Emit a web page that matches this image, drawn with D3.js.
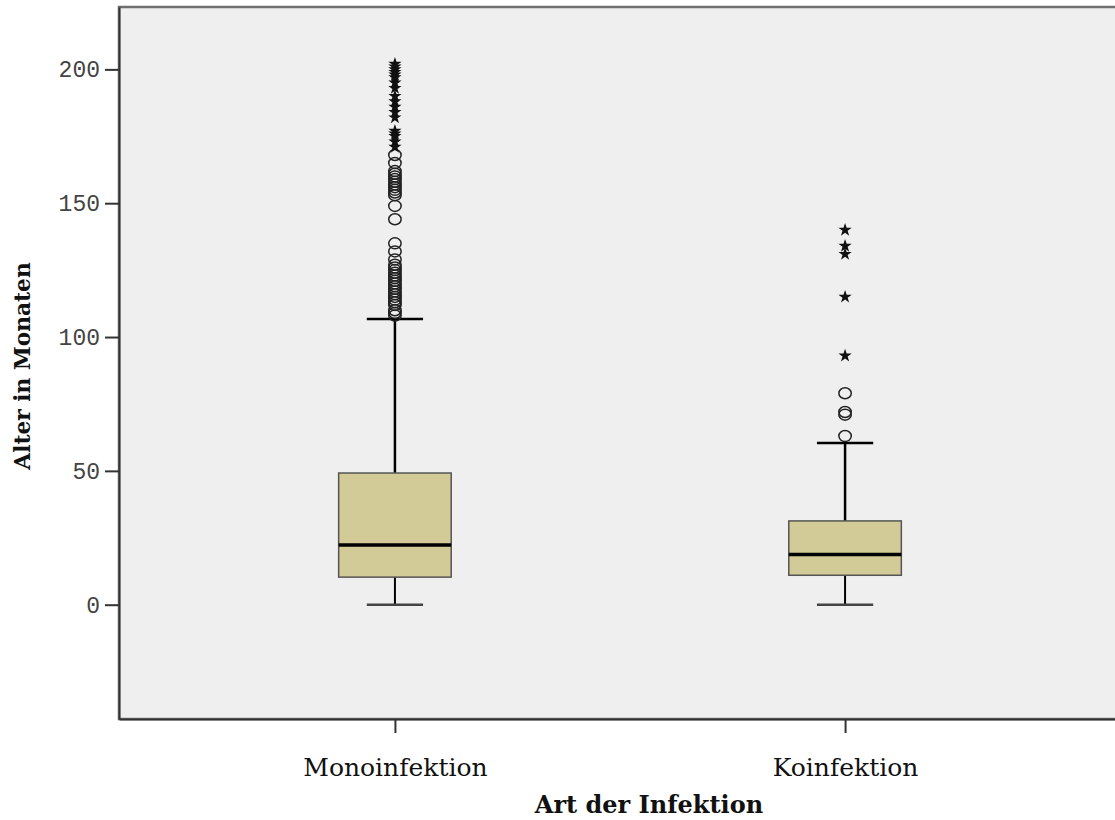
<!DOCTYPE html>
<html>
<head>
<meta charset="utf-8">
<script src="https://cdn.jsdelivr.net/npm/d3@7"></script>
<style>
  body { margin: 0; background: #fff; }
</style>
</head>
<body>
<script>
// box plot data (months)
var categories = ["Monoinfektion", "Koinfektion"];
var q1 = [10.3, 11.0];
var median = [22.3, 18.8];
var q3 = [49.2, 31.3];
var whiskerLow = [0, 0];
var whiskerHigh = [106.7, 60.4];
var yTicks = [0, 50, 100, 150, 200];

// outliers (circles) and extreme values (stars)
var outliersMono = [168, 165, 162, 161, 160, 159, 158, 157, 156, 155, 154, 153, 149, 144,
  135, 132, 129, 127, 126, 125, 124, 123, 122, 121, 120, 119, 118, 117, 116, 115,
  114, 113, 112, 110, 109, 108];
var extremesMono = [202, 201, 200, 199, 198, 197, 195, 193, 190, 188, 186, 184, 182,
  177, 176, 175, 173, 171];
var outliersKo = [79, 72, 71, 63];
var extremesKo = [140, 134, 131, 115, 93];

var outliers = [outliersMono, outliersKo];
var extremes = [extremesMono, extremesKo];

var width = 1115, height = 820;
var plotLeft = 119, plotTop = 7, plotRight = 1121, plotBottom = 719;
var serif = "'DejaVu Serif', 'Liberation Serif', serif";

var svg = d3.select("body").append("svg")
  .attr("width", width)
  .attr("height", height);

var y = d3.scaleLinear().domain([-42.7, 223.3]).range([plotBottom, plotTop]);
var x = d3.scalePoint().domain(categories).range([plotLeft, plotRight]).padding(0.613);
var boxW = x.step() * 0.25;

// plot background
svg.append("rect")
  .attr("x", plotLeft).attr("y", plotTop)
  .attr("width", plotRight - plotLeft).attr("height", plotBottom - plotTop)
  .attr("fill", "#efefef")
  .attr("stroke", "#707070")
  .attr("stroke-width", 2.5);

// axes
var yAxis = svg.append("g")
  .attr("transform", "translate(" + plotLeft + ",0)")
  .call(d3.axisLeft(y).tickValues(yTicks).tickSizeInner(14).tickSizeOuter(0).tickPadding(5));
yAxis.select(".domain").attr("stroke", "#333").attr("stroke-width", 2);
yAxis.selectAll(".tick line").attr("stroke", "#333").attr("stroke-width", 2);
yAxis.selectAll(".tick text")
  .attr("font-family", "'Liberation Mono', 'DejaVu Sans Mono', monospace")
  .attr("font-size", "23px")
  .attr("fill", "#444");

var xAxis = svg.append("g")
  .attr("transform", "translate(0," + plotBottom + ")")
  .call(d3.axisBottom(x).tickSizeInner(14).tickSizeOuter(0).tickPadding(25));
xAxis.select(".domain").attr("stroke", "#333").attr("stroke-width", 2);
xAxis.selectAll(".tick line").attr("stroke", "#333").attr("stroke-width", 2);
xAxis.selectAll(".tick text")
  .attr("font-family", serif)
  .attr("font-size", "25px")
  .attr("fill", "#111");

// axis titles
svg.append("text")
  .attr("x", 649).attr("y", 813)
  .attr("text-anchor", "middle")
  .attr("font-family", serif)
  .attr("font-weight", "bold")
  .attr("font-size", "24px")
  .attr("fill", "#111")
  .text("Art der Infektion");

svg.append("text")
  .attr("transform", "translate(30,366) rotate(-90)")
  .attr("text-anchor", "middle")
  .attr("font-family", serif)
  .attr("font-weight", "bold")
  .attr("font-size", "21.7px")
  .attr("fill", "#111")
  .text("Alter in Monaten");

// boxes
var boxes = svg.append("g").selectAll("g")
  .data(categories)
  .enter().append("g");

// whiskers
boxes.append("line")
  .attr("x1", function(d) { return x(d); })
  .attr("x2", function(d) { return x(d); })
  .attr("y1", function(d, i) { return y(whiskerLow[i]); })
  .attr("y2", function(d, i) { return y(q1[i]); })
  .attr("stroke", "#000").attr("stroke-width", 2);
boxes.append("line")
  .attr("x1", function(d) { return x(d); })
  .attr("x2", function(d) { return x(d); })
  .attr("y1", function(d, i) { return y(whiskerHigh[i]); })
  .attr("y2", function(d, i) { return y(q3[i]); })
  .attr("stroke", "#000").attr("stroke-width", 2.5);

// caps
[whiskerLow, whiskerHigh].forEach(function(arr, k) {
  boxes.append("line")
    .attr("x1", function(d) { return x(d) - boxW / 4; })
    .attr("x2", function(d) { return x(d) + boxW / 4; })
    .attr("y1", function(d, i) { return y(arr[i]); })
    .attr("y2", function(d, i) { return y(arr[i]); })
    .attr("stroke", k == 0 ? "#444" : "#000")
    .attr("stroke-width", 2.5);
});

boxes.append("rect")
  .attr("x", function(d) { return x(d) - boxW / 2; })
  .attr("y", function(d, i) { return y(q3[i]); })
  .attr("width", boxW)
  .attr("height", function(d, i) { return y(q1[i]) - y(q3[i]); })
  .attr("fill", "#d2cb97")
  .attr("stroke", "#555")
  .attr("stroke-width", 1.5);

boxes.append("line")
  .attr("x1", function(d) { return x(d) - boxW / 2; })
  .attr("x2", function(d) { return x(d) + boxW / 2; })
  .attr("y1", function(d, i) { return y(median[i]); })
  .attr("y2", function(d, i) { return y(median[i]); })
  .attr("stroke", "#000").attr("stroke-width", 3.5);

// outlier circles and extreme-value stars
boxes.each(function(d, i) {
  d3.select(this).selectAll("ellipse")
    .data(outliers[i])
    .enter().append("ellipse")
    .attr("cx", x(d))
    .attr("cy", function(v) { return y(v); })
    .attr("rx", 6.2).attr("ry", 5.5)
    .attr("fill", "none")
    .attr("stroke", "#222")
    .attr("stroke-width", 1.5);

  d3.select(this).selectAll("path.star")
    .data(extremes[i])
    .enter().append("path")
    .attr("class", "star")
    .attr("transform", function(v) { return "translate(" + x(d) + "," + y(v) + ")"; })
    .attr("d", d3.symbol().type(d3.symbolStar).size(55))
    .attr("fill", "#111");
});
</script>
</body>
</html>
